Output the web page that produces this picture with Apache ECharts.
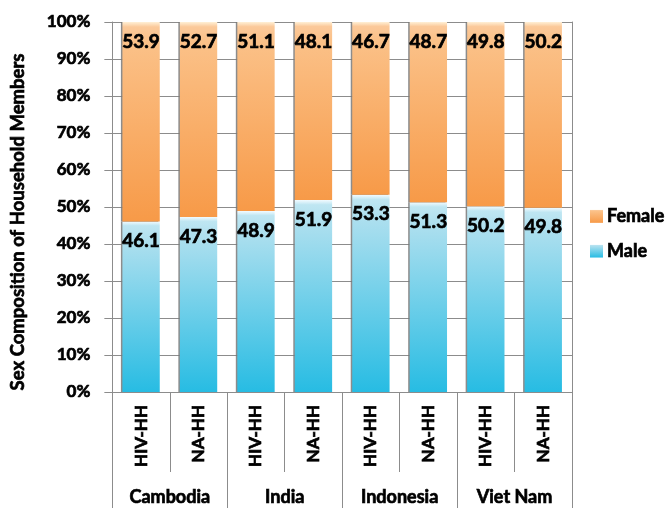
<!DOCTYPE html>
<html>
<head>
<meta charset="utf-8">
<script src="https://cdn.jsdelivr.net/npm/echarts@6/dist/echarts.min.js"></script>
<style>
  html, body { margin: 0; padding: 0; background: #fff; }
  #chart { width: 672px; height: 508px; }
</style>
</head>
<body>
<div id="chart"></div>
<script>
// Household type under each country
const subCategories = ['HIV-HH', 'NA-HH', 'HIV-HH', 'NA-HH', 'HIV-HH', 'NA-HH', 'HIV-HH', 'NA-HH'];
const countries = ['Cambodia', 'India', 'Indonesia', 'Viet Nam'];

// Share of household members by sex (%)
const maleValues   = [46.1, 47.3, 48.9, 51.9, 53.3, 51.3, 50.2, 49.8];
const femaleValues = [53.9, 52.7, 51.1, 48.1, 46.7, 48.7, 49.8, 50.2];

const yTicks = { min: 0, max: 100, interval: 10 };

const FONT = 'Lato, "Liberation Sans", sans-serif';
const GRID_GRAY = '#8c8c8c';

// heavy black text: bold face plus a hairline outline of the same colour
function heavy(size, extra) {
  return Object.assign({
    color: '#000',
    fontFamily: FONT,
    fontWeight: 'bold',
    fontSize: size,
    textBorderColor: '#000',
    textBorderWidth: 0.7
  }, extra || {});
}

function grad(stops) {
  return new echarts.graphic.LinearGradient(0, 0, 0, 1,
    stops.map(([offset, color]) => ({ offset, color })));
}

const femaleFill = grad([[0, '#fff0d6'], [0.025, '#fbc99a'], [0.1, '#fbc188'], [1, '#f79a48']]);
const maleFill = grad([[0, '#f2fbff'], [0.025, '#bfe6f2'], [0.1, '#b0e0ef'], [1, '#27bce3']]);

const barShadow = {
  shadowColor: 'rgba(120,120,120,0.85)',
  shadowBlur: 0,
  shadowOffsetX: -1.5,
  shadowOffsetY: 0
};

const labelStyle = heavy(19, {
  show: true,
  position: 'insideTop',
  distance: 10,
  formatter: p => p.value.toFixed(1)
});

const chart = echarts.init(document.getElementById('chart'), null, { renderer: 'canvas' });

chart.setOption({
  animation: false,
  textStyle: { fontFamily: FONT },
  grid: { left: 105, right: 100, top: 22, bottom: 116 },
  legend: {
    orient: 'vertical',
    left: 585,
    top: 202,
    itemWidth: 13,
    itemHeight: 13,
    itemGap: 16,
    icon: 'rect',
    data: ['Female', 'Male'],
    textStyle: heavy(18, { padding: [0, 0, 0, -1] })
  },
  xAxis: [
    {
      type: 'category',
      data: subCategories,
      position: 'bottom',
      axisLine: { show: true, lineStyle: { color: GRID_GRAY, width: 1 } },
      axisTick: { show: true, length: 80, interval: 0, lineStyle: { color: GRID_GRAY } },
      axisLabel: heavy(17, { interval: 0, rotate: 90, margin: 13 }),
      splitLine: { show: false }
    },
    {
      type: 'category',
      data: countries,
      position: 'bottom',
      offset: 0,
      axisLine: { show: false },
      axisTick: { show: true, length: 116, interval: 0, lineStyle: { color: GRID_GRAY } },
      axisLabel: heavy(18, { interval: 0, margin: 96 }),
      splitLine: { show: false }
    }
  ],
  yAxis: [
    {
      type: 'value',
      min: yTicks.min,
      max: yTicks.max,
      interval: yTicks.interval,
      name: 'Sex Composition of Household Members',
      nameLocation: 'middle',
      nameGap: 85,
      nameTextStyle: heavy(18.5, { padding: [0, 30, 0, 0] }),
      axisLine: { show: true, lineStyle: { color: GRID_GRAY } },
      axisTick: { show: true, length: 8, lineStyle: { color: GRID_GRAY } },
      axisLabel: heavy(17, { formatter: '{value}%', margin: 22 }),
      splitLine: { show: true, lineStyle: { color: GRID_GRAY, width: 1 } }
    },
    {
      type: 'value',
      position: 'right',
      min: yTicks.min,
      max: yTicks.max,
      interval: yTicks.interval,
      axisLine: { show: true, lineStyle: { color: GRID_GRAY } },
      axisTick: { show: false },
      axisLabel: { show: false },
      splitLine: { show: false }
    }
  ],
  series: [
    {
      name: 'Male',
      type: 'bar',
      stack: 'sex',
      xAxisIndex: 0,
      yAxisIndex: 0,
      barCategoryGap: '35%',
      data: maleValues,
      itemStyle: Object.assign({ color: maleFill }, barShadow),
      label: labelStyle
    },
    {
      name: 'Female',
      type: 'bar',
      stack: 'sex',
      xAxisIndex: 0,
      yAxisIndex: 0,
      barCategoryGap: '35%',
      data: femaleValues,
      itemStyle: Object.assign({ color: femaleFill }, barShadow),
      label: labelStyle
    }
  ]
});
</script>
</body>
</html>
